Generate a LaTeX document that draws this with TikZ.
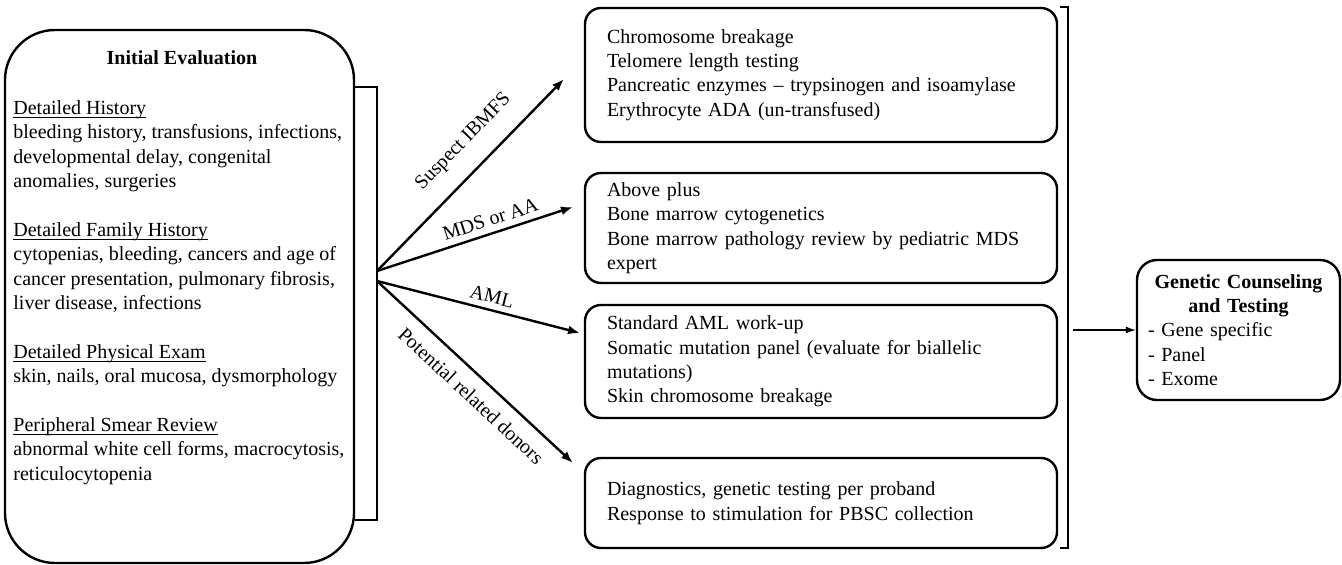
\documentclass[tikz,border=0pt]{standalone}
\usepackage{fontspec}
\setmainfont{Liberation Serif}
\usetikzlibrary{arrows.meta}
\newcommand{\hdr}[1]{\setbox0\hbox{#1}\rlap{\rule[-1.8pt]{\wd0}{0.5pt}}\box0}

\begin{document}
\begin{tikzpicture}[x=0.5pt,y=-0.5pt,
  every node/.style={font=\fontsize{10}{12.2}\selectfont},
  box/.style={draw,line width=1.2pt,inner sep=0pt},
  testbox/.style={box,rounded corners=8pt,text width=214pt,inner xsep=11pt,align=left},
  fan/.style={line width=1.2pt,-{Latex[length=6pt,width=4.5pt]}},
  lbl/.style={midway,sloped,inner sep=0pt}]
  \useasboundingbox (0,0) rectangle (1342,565);
  % initial evaluation
  \node[box,rounded corners=25pt,minimum width=174.5pt,minimum height=266.5pt] (eval) at (179.5,296.5) {};
  \node[font=\fontsize{10}{12.2}\selectfont\bfseries] (evaltitle) at (182,58) {Initial Evaluation};
  \node[anchor=north west,align=left,inner sep=0pt] (evalbody) at (13,100) {\hdr{Detailed History}\\
    bleeding history, transfusions, infections,\\ developmental delay, congenital\\ anomalies, surgeries\\[12.2pt]
    \hdr{Detailed Family History}\\ cytopenias, bleeding, cancers and age of\\
    cancer presentation, pulmonary fibrosis,\\ liver disease, infections\\[12.2pt]
    \hdr{Detailed Physical Exam}\\ skin, nails, oral mucosa, dysmorphology\\[12.2pt]
    \hdr{Peripheral Smear Review}\\ abnormal white cell forms, macrocytosis,\\ reticulocytopenia};
  \coordinate (lbtop) at (377,87);
  \coordinate (lbbot) at (377,520);
  \draw[line width=1.2pt] (eval.east |- lbtop) -- (lbtop) -- (lbbot) -- (eval.east |- lbbot);
  % work-up boxes
  \node[testbox,minimum height=67pt] (ibmfs) at (821,75) {Chromosome breakage\\ Telomere length testing\\
    Pancreatic enzymes -- trypsinogen and isoamylase\\ Erythrocyte ADA (un-transfused)};
  \node[testbox,minimum height=55pt] (mds) at (821,228) {Above plus\\ Bone marrow cytogenetics\\
    Bone marrow pathology review by pediatric MDS\\ expert};
  \node[testbox,minimum height=56.5pt] (aml) at (821,361.5) {Standard AML work-up\\
    Somatic mutation panel (evaluate for biallelic\\ mutations)\\ Skin chromosome breakage};
  \node[testbox,minimum height=45pt] (donor) at (821,503) {Diagnostics, genetic testing per proband\\
    Response to stimulation for PBSC collection};
  % fan of arrows
  \coordinate (fanup) at (377,271);
  \coordinate (fandn) at (377,281);
  \coordinate (ibmfsin) at (564,79);
  \coordinate (mdsin) at (573,207);
  \coordinate (amlin) at (580,333);
  \coordinate (donorin) at (573,463);
  \draw[fan] (fanup) -- node[lbl,pos=0.57,above=9pt] {Suspect IBMFS} (ibmfsin);
  \draw[fan] (fanup) -- node[lbl,pos=0.6,above=3pt] {MDS or AA} (mdsin);
  \draw[fan] (fandn) -- node[lbl,pos=0.55,above=3pt] {AML} (amlin);
  \draw[fan] (fandn) -- node[lbl,pos=0.55,below=6pt] {Potential related donors} (donorin);
  % genetic counseling
  \coordinate (rbtop) at (1068,7);
  \coordinate (rbbot) at (1068,548);
  \draw[line width=1.2pt] ([xshift=-4pt]rbtop) -- (rbtop) -- (rbbot) -- ([xshift=-4pt]rbbot);
  \node[box,rounded corners=10pt,minimum width=101.5pt,minimum height=70pt,text width=90.5pt,
    inner xsep=5.5pt,align=left] (gct) at (1238.5,330) {\makebox[90.5pt]{\textbf{Genetic Counseling}}\\
    \makebox[90.5pt]{\textbf{and Testing}}\\ - Gene specific\\ - Panel\\ - Exome};
  \draw[line width=0.6pt,-{Latex[length=5pt,width=3.5pt]},shorten <=2.5pt] (rbtop |- gct.west) -- (gct.west);
\end{tikzpicture}
\end{document}
